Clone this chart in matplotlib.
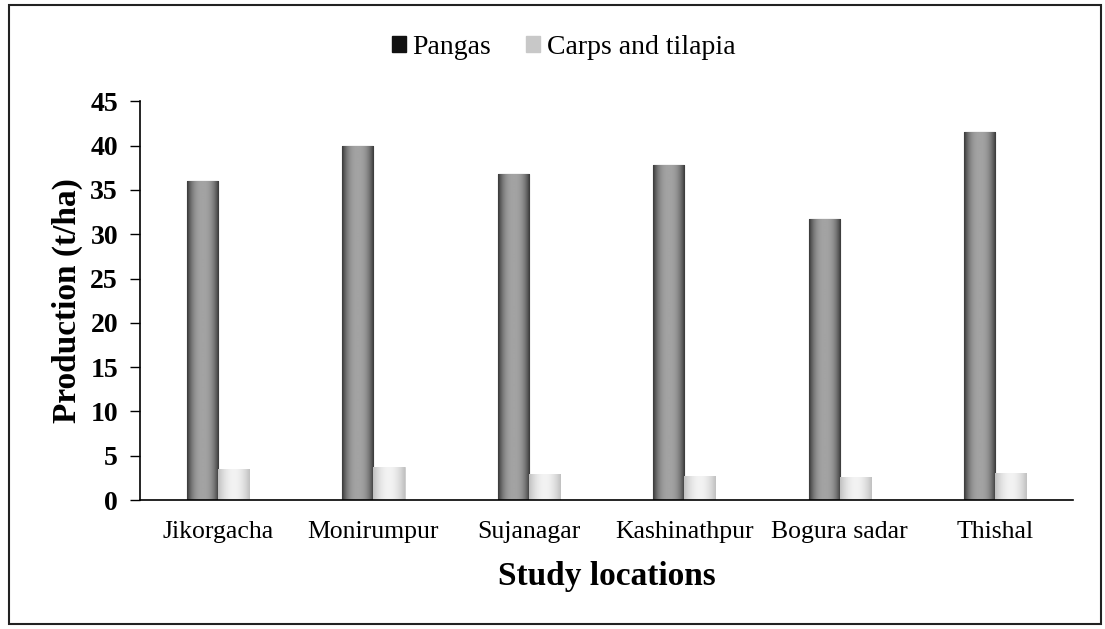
import numpy as np
import matplotlib
matplotlib.use("Agg")
import matplotlib.pyplot as plt
from matplotlib.patches import Rectangle
from matplotlib.font_manager import FontProperties

locais = ["Jikorgacha", "Monirumpur", "Sujanagar", "Kashinathpur", "Bogura sadar", "Thishal"]
pangas = [36.0, 40.0, 36.8, 37.8, 31.7, 41.5]
carpas = [3.5, 3.7, 2.9, 2.7, 2.6, 3.0]

plt.rcParams["font.family"] = ["Liberation Serif", "DejaVu Serif"]

fig = plt.figure(figsize=(11.05, 6.29), dpi=100)
ax = fig.add_axes([0.127, 0.205, 0.844, 0.634])

x = np.arange(len(locais))
w = 0.2

# gradiente horizontal: escuro nas bordas, claro no meio
t = np.linspace(-1, 1, 64)
grad_p = 0.22 + 0.42 * (1 - np.abs(t) ** 2.5)
grad_c = 0.75 + 0.2 * (1 - np.abs(t) ** 2)

barras_p = ax.bar(x - w / 2, pangas, w, color="#909090", edgecolor="#222222", linewidth=0.8, label="Pangas")
barras_c = ax.bar(x + w / 2, carpas, w, color="#d6d6d6", edgecolor="#c4c4c4", linewidth=0.5, label="Carps and tilapia")

for barras, grad in [(barras_p, grad_p), (barras_c, grad_c)]:
    for b in barras:
        x0, y0 = b.get_x(), b.get_y()
        bw, bh = b.get_width(), b.get_height()
        im = ax.imshow(grad[np.newaxis, :], cmap="gray", vmin=0, vmax=1, aspect="auto",
                       extent=(x0, x0 + bw, y0, y0 + bh), zorder=b.get_zorder() + 0.1,
                       interpolation="bicubic")
        im.set_clip_path(b)

ax.set_xlim(-0.5, len(locais) - 0.5)
ax.set_ylim(0, 45)
ax.set_yticks(range(0, 46, 5))
ax.set_xticks(x)
ax.set_xticklabels(locais, fontsize=18.5)
for lbl in ax.get_yticklabels():
    lbl.set_fontsize(20)
    lbl.set_fontweight("bold")
ax.tick_params(axis="x", length=0, pad=15)
ax.tick_params(axis="y", length=7, width=1, direction="out", pad=9)
ax.spines["top"].set_visible(False)
ax.spines["right"].set_visible(False)
ax.spines["left"].set_linewidth(1.2)
ax.spines["bottom"].set_linewidth(1.2)

ax.set_xlabel("Study locations", fontsize=24, fontweight="bold", labelpad=13)
ax.set_ylabel("Production (t/ha)", fontsize=24, fontweight="bold", labelpad=5)

h_p = Rectangle((0, 0), 1, 1, facecolor="#111111", edgecolor="#111111")
h_c = Rectangle((0, 0), 1, 1, facecolor="#c8c8c8", edgecolor="#c8c8c8")
fonte_leg = FontProperties(family=["Liberation Serif", "DejaVu Serif"], size=20)
fig.legend([h_p, h_c], ["Pangas", "Carps and tilapia"], loc="center", bbox_to_anchor=(0.51, 0.925),
           ncol=2, frameon=False, prop=fonte_leg, handlelength=0.5, handleheight=0.5,
           handletextpad=0.25, columnspacing=1.25)

fig.patches.append(Rectangle((0.008, 0.008), 0.988, 0.984, transform=fig.transFigure,
                             fill=False, edgecolor="#222222", linewidth=1.5))

fig.savefig("out.png", dpi=100)
